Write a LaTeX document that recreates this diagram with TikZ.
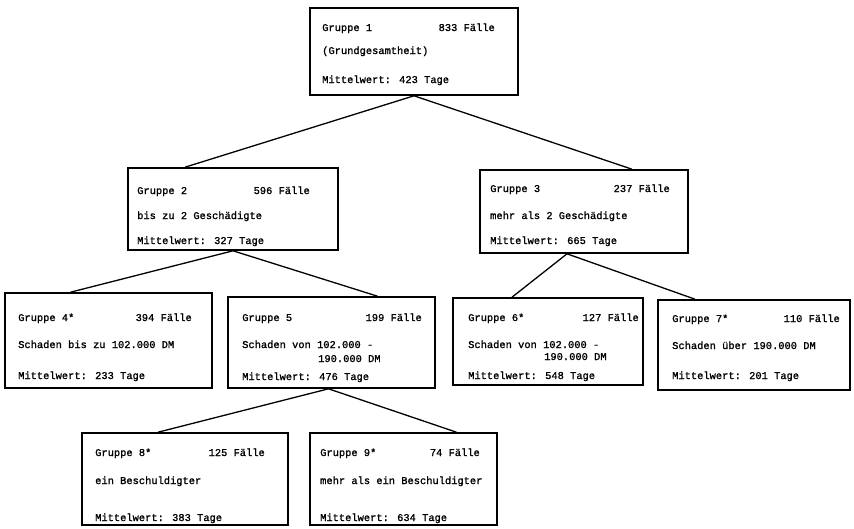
\documentclass[tikz,border=0pt]{standalone}
\usepackage{fontspec}
\usepackage{tikz}
\usetikzlibrary{positioning}
\newfontfamily\schreib[FakeBold=1.2]{Liberation Mono}

\tikzset{
  gbox/.style={draw,line width=1.6pt,inner sep=0pt},
  gtxt/.style={font=\schreib\fontsize{10.4}{12}\selectfont,inner sep=0pt,anchor=base west},
  gnum/.style={gtxt,anchor=base east},
  glink/.style={line width=1.3pt}
}

\begin{document}
\begin{tikzpicture}[x=1pt,y=-1pt]
\useasboundingbox[fill=white](0,0) rectangle (854,528);
% Gruppe 1
\node[gbox,minimum width=208pt,minimum height=87pt](g1) at (414,51.5){};
\node[gtxt](g1a) at (322,31){Gruppe 1};
\node[gnum](g1b) at (495,31){833 Fälle};
\node[gtxt](g1c) at (322,54){(Grundgesamtheit)};
\node[gtxt](g1d) at (322,83){Mittelwert: 423 Tage};
% Gruppe 2 und 3
\node[gbox,minimum width=210pt,minimum height=82pt](g2) at (233,209){};
\node[gtxt](g2a) at (137,194){Gruppe 2};
\node[gnum](g2b) at (310,194){596 Fälle};
\node[gtxt](g2c) at (137,219){bis zu 2 Geschädigte};
\node[gtxt](g2d) at (137,244){Mittelwert: 327 Tage};
\node[gbox,minimum width=208pt,minimum height=83pt](g3) at (584,211.5){};
\node[gtxt](g3a) at (490,192){Gruppe 3};
\node[gnum](g3b) at (670,192){237 Fälle};
\node[gtxt](g3c) at (490,219){mehr als 2 Geschädigte};
\node[gtxt](g3d) at (490,244){Mittelwert: 665 Tage};
% Gruppe 4 bis 7
\node[gbox,minimum width=207pt,minimum height=95pt](g4) at (108.5,340.5){};
\node[gtxt](g4a) at (18,321){Gruppe 4*};
\node[gnum](g4b) at (192,321){394 Fälle};
\node[gtxt](g4c) at (18,348){Schaden bis zu 102.000 DM};
\node[gtxt](g4d) at (18,379){Mittelwert: 233 Tage};
\node[gbox,minimum width=207pt,minimum height=91pt](g5) at (331.5,342.5){};
\node[gtxt](g5a) at (242,321){Gruppe 5};
\node[gnum](g5b) at (422,321){199 Fälle};
\node[gtxt](g5c) at (242,348){Schaden von 102.000 -};
\node[gtxt](g5d) at (318,362){190.000 DM};
\node[gtxt](g5e) at (242,380){Mittelwert: 476 Tage};
\node[gbox,minimum width=190pt,minimum height=87pt](g6) at (548,341.5){};
\node[gtxt](g6a) at (468,321){Gruppe 6*};
\node[gnum](g6b) at (639,321){127 Fälle};
\node[gtxt](g6c) at (468,348){Schaden von 102.000 -};
\node[gtxt](g6d) at (544,360){190.000 DM};
\node[gtxt](g6e) at (468,379){Mittelwert: 548 Tage};
\node[gbox,minimum width=192pt,minimum height=90pt](g7) at (754,345){};
\node[gtxt](g7a) at (672,322){Gruppe 7*};
\node[gnum](g7b) at (840,322){110 Fälle};
\node[gtxt](g7c) at (672,349){Schaden über 190.000 DM};
\node[gtxt](g7d) at (672,379){Mittelwert: 201 Tage};
% Gruppe 8 und 9
\node[gbox,minimum width=206pt,minimum height=92pt](g8) at (185,479){};
\node[gtxt](g8a) at (95,456){Gruppe 8*};
\node[gnum](g8b) at (265,456){125 Fälle};
\node[gtxt](g8c) at (95,484){ein Beschuldigter};
\node[gtxt](g8d) at (95,521){Mittelwert: 383 Tage};
\node[gbox,minimum width=187pt,minimum height=92pt](g9) at (403.5,479){};
\node[gtxt](g9a) at (320,456){Gruppe 9*};
\node[gnum](g9b) at (480,456){74 Fälle};
\node[gtxt](g9c) at (320,484){mehr als ein Beschuldigter};
\node[gtxt](g9d) at (320,521){Mittelwert: 634 Tage};
% Verbindungen
\draw[glink]([xshift=-48pt]g2.north)--(g1.south)--([xshift=48pt]g3.north);
\draw[glink]([xshift=-38pt]g4.north)--(g2.south)--([xshift=46pt]g5.north);
\draw[glink]([xshift=-36pt]g6.north)--([xshift=-17pt]g3.south)--([xshift=-59pt]g7.north);
\draw[glink]([xshift=-27pt]g8.north)--([xshift=-3pt]g5.south)--([xshift=53pt]g9.north);
\end{tikzpicture}
\end{document}
